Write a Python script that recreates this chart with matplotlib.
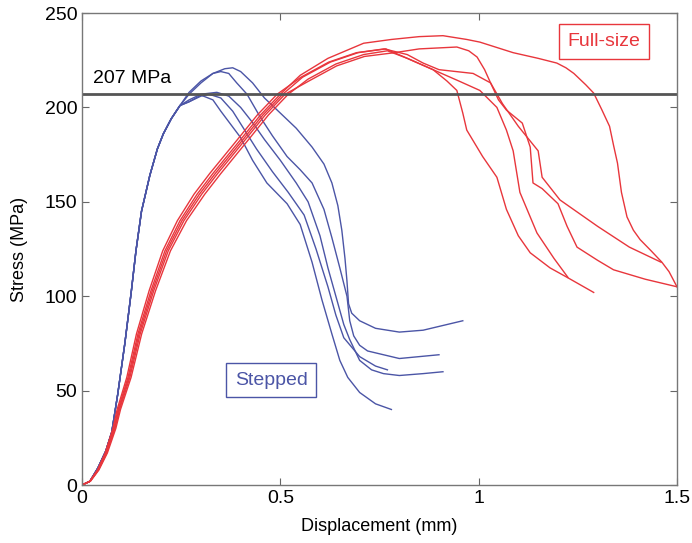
import matplotlib
matplotlib.use("Agg")
import matplotlib.pyplot as plt

plt.rcParams['font.family'] = ['Liberation Sans', 'DejaVu Sans']

# ---- data (displacement mm, stress MPa) ----
blue_rise_x = [0, 0.02, 0.04, 0.06, 0.075, 0.09, 0.108, 0.124, 0.136, 0.15, 0.171, 0.19, 0.205, 0.225, 0.247]
blue_rise_y = [0, 2, 9, 18, 28, 48, 75, 102, 124, 145, 164, 178, 186, 194, 201]

b1_x = [0.27, 0.30, 0.33, 0.36, 0.38, 0.40, 0.43, 0.46, 0.50, 0.54, 0.58, 0.61, 0.63, 0.645, 0.655, 0.663, 0.668, 0.672, 0.68, 0.70, 0.74, 0.80, 0.86, 0.92, 0.96]
b1_y = [207, 213, 218, 220.5, 221, 219, 213, 205, 197, 189, 179, 170, 160, 148, 135, 120, 108, 96, 91, 87, 83, 81, 82, 85, 87]
b2_x = [0.27, 0.30, 0.33, 0.35, 0.37, 0.39, 0.416, 0.449, 0.48, 0.517, 0.55, 0.58, 0.61, 0.63, 0.65, 0.668, 0.675, 0.685, 0.70, 0.72, 0.76, 0.80, 0.85, 0.90]
b2_y = [208, 214, 218, 219, 218, 213, 207, 195, 185, 174, 167, 160, 146, 131, 115, 100, 87, 79, 74, 71, 69, 67, 68, 69]
b3_x = [0.27, 0.30, 0.34, 0.37, 0.40, 0.43, 0.46, 0.50, 0.54, 0.57, 0.60, 0.62, 0.64, 0.66, 0.675, 0.70, 0.73, 0.76, 0.80, 0.86, 0.91]
b3_y = [204, 207, 208, 206, 200, 192, 183, 172, 160, 150, 132, 115, 100, 85, 77, 66, 61, 59, 58, 59, 60]
b4_x = [0.27, 0.30, 0.32, 0.35, 0.38, 0.41, 0.44, 0.48, 0.52, 0.56, 0.59, 0.62, 0.64, 0.66, 0.70, 0.74, 0.77]
b4_y = [203, 206, 207, 205, 198, 188, 178, 166, 155, 143, 125, 105, 90, 78, 68, 63, 61]
b5_x = [0.27, 0.30, 0.33, 0.35, 0.40, 0.43, 0.466, 0.517, 0.55, 0.58, 0.605, 0.63, 0.65, 0.67, 0.70, 0.74, 0.78]
b5_y = [203, 206.5, 204, 198, 184, 172, 160, 149, 138, 118, 98, 80, 66, 57, 49, 43, 40]

red_rise_x = [0, 0.02, 0.04, 0.06, 0.08, 0.091, 0.116, 0.141, 0.174, 0.209, 0.247, 0.29, 0.33, 0.40, 0.45, 0.50]
red_rise_y = [0, 2, 8, 17, 30, 40, 57, 80, 103, 124, 140, 154, 165, 183, 196, 207]

r1_x = [0.55, 0.62, 0.71, 0.78, 0.85, 0.91, 0.97, 1.003, 1.087, 1.15, 1.197, 1.22, 1.24, 1.27, 1.29, 1.31, 1.33, 1.34, 1.35, 1.36, 1.374, 1.39, 1.407, 1.435, 1.462, 1.48, 1.49, 1.5]
r1_y = [217, 226, 234, 236, 237.5, 238, 236, 234.6, 229, 226, 223.5, 221, 218, 212, 207.6, 199, 190, 180, 170.5, 155, 142, 135, 130, 124, 118, 113, 109, 105]
r2_x = [0.56, 0.63, 0.70, 0.776, 0.85, 0.945, 0.975, 0.996, 1.015, 1.03, 1.05, 1.07, 1.11, 1.13, 1.137, 1.16, 1.20, 1.223, 1.248, 1.30, 1.34, 1.42, 1.5]
r2_y = [214, 222, 227, 229, 231, 232, 230, 226.7, 220, 213, 204, 198.6, 191.7, 179, 160, 157, 149, 137, 126, 119, 114, 109, 105]
r3_x = [0.56, 0.63, 0.70, 0.77, 0.82, 0.86, 0.90, 0.986, 1.03, 1.06, 1.10, 1.15, 1.16, 1.205, 1.30, 1.38, 1.46]
r3_y = [216, 224, 229, 231, 228, 223.5, 220, 218, 213, 202, 190, 177, 163, 151, 137, 126, 118]
r4_x = [0.55, 0.62, 0.69, 0.75, 0.82, 0.885, 0.92, 0.945, 0.96, 0.97, 1.01, 1.046, 1.07, 1.10, 1.13, 1.18, 1.223, 1.29]
r4_y = [215, 223, 228, 230, 226, 220, 214, 209, 197, 188, 174, 163, 146, 132, 123, 115, 110, 102]
r5_x = [0.55, 0.62, 0.69, 0.76, 0.82, 0.885, 0.95, 1.003, 1.046, 1.07, 1.087, 1.104, 1.147, 1.19, 1.225]
r5_y = [216, 224, 229, 231, 226, 220, 214, 209, 200, 188, 177, 155, 133.5, 120, 110]

red_offsets = [0.0, 0.012, -0.008, 0.02, 0.006]

blue_curves = [(b1_x, b1_y), (b2_x, b2_y), (b3_x, b3_y), (b4_x, b4_y), (b5_x, b5_y)]
red_curves = [(r1_x, r1_y), (r2_x, r2_y), (r3_x, r3_y), (r4_x, r4_y), (r5_x, r5_y)]

threshold = 207
xticks = [0, 0.5, 1, 1.5]
xtick_labels = ['0', '0.5', '1', '1.5']
yticks = [0, 50, 100, 150, 200, 250]

BLUE = '#4b55a6'
RED = '#e8363c'

fig = plt.figure(figsize=(6.92, 5.43), dpi=100)
ax = fig.add_axes([0.1185, 0.1068, 0.8598, 0.8692])

for (tx, ty) in blue_curves:
    ax.plot(blue_rise_x + tx, blue_rise_y + ty, color=BLUE, lw=1.0)
for off, (tx, ty) in zip(red_offsets, red_curves):
    xs = [v + off * min(1.0, v / 0.3) for v in red_rise_x] + [v + off for v in tx[:4]] + tx[4:]
    ax.plot(xs, red_rise_y + ty, color=RED, lw=1.0)

ax.axhline(threshold, color='#555555', lw=2.0)
ax.text(0.028, threshold + 4, '207 MPa', fontsize=14, color='black', va='bottom', ha='left')

ax.text(1.316, 235, 'Full-size', fontsize=14, color=RED, ha='center', va='center',
        bbox=dict(boxstyle='square,pad=0.45', fc='white', ec=RED, lw=1.0))
ax.text(0.477, 55.5, 'Stepped', fontsize=14, color=BLUE, ha='center', va='center',
        bbox=dict(boxstyle='square,pad=0.45', fc='white', ec=BLUE, lw=1.0))

ax.set_xlim(0, 1.5)
ax.set_ylim(0, 250)
ax.set_xticks(xticks)
ax.set_xticklabels(xtick_labels)
ax.set_yticks(yticks)
ax.tick_params(direction='in', length=5, width=0.8, colors='#666666', labelcolor='black',
               labelsize=14, top=True, right=True)
for s in ax.spines.values():
    s.set_color('#777777')
    s.set_linewidth(1.0)
ax.set_xlabel('Displacement (mm)', fontsize=13, labelpad=8)
ax.set_ylabel('Stress (MPa)', fontsize=13, labelpad=12)

fig.savefig('out.png', dpi=100)
